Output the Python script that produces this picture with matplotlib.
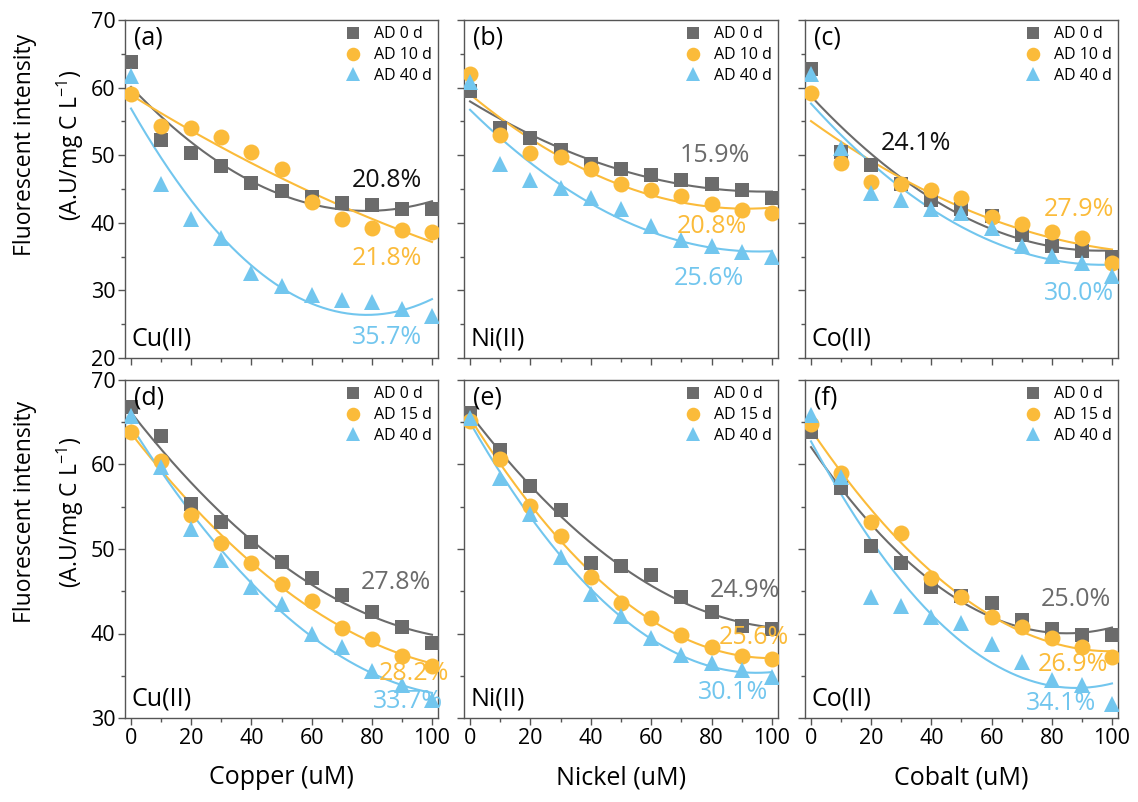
import numpy as np
import matplotlib
matplotlib.use("Agg")
import matplotlib.pyplot as plt
from matplotlib.lines import Line2D

plt.rcParams['font.family'] = ['Open Sans', 'DejaVu Sans']
plt.rcParams['mathtext.fontset'] = 'custom'
plt.rcParams['mathtext.rm'] = 'Open Sans'

x = [0, 10, 20, 30, 40, 50, 60, 70, 80, 90, 100]

# Panel (a) Cu(II)
a_0 = [63.8, 52.2, 50.3, 48.4, 45.9, 44.7, 43.8, 42.9, 42.6, 42.0, 42.0]
a_10 = [59.0, 54.3, 54.0, 52.7, 50.4, 48.0, 43.1, 40.6, 39.2, 39.0, 38.6]
a_40 = [61.7, 45.8, 40.6, 37.8, 32.6, 30.6, 29.3, 28.6, 28.3, 27.3, 26.2]
# Panel (b) Ni(II)
b_0 = [59.5, 54.0, 52.6, 50.8, 48.7, 47.9, 47.1, 46.3, 45.7, 44.9, 43.7]
b_10 = [62.0, 53.0, 50.3, 49.7, 47.9, 45.7, 44.9, 43.9, 42.8, 41.9, 41.4]
b_40 = [60.9, 48.7, 46.3, 45.1, 43.6, 42.1, 39.6, 37.5, 36.5, 35.7, 35.0]
# Panel (c) Co(II)
c_0 = [62.7, 50.5, 48.5, 45.8, 43.4, 42.1, 41.0, 38.2, 36.5, 35.8, 35.0]
c_10 = [59.2, 48.9, 46.1, 45.8, 44.8, 43.6, 40.9, 39.8, 38.7, 37.7, 34.0]
c_40 = [62.0, 51.0, 44.4, 43.4, 42.1, 41.4, 39.2, 36.5, 35.1, 34.0, 32.1]
# Panel (d) Cu(II)
d_0 = [66.8, 63.4, 55.3, 53.2, 50.8, 48.5, 46.6, 44.6, 42.6, 40.8, 38.9]
d_15 = [63.9, 60.4, 54.0, 50.7, 48.3, 45.9, 43.9, 40.6, 39.3, 37.3, 36.2]
d_40 = [65.7, 59.7, 52.4, 48.7, 45.5, 43.5, 40.0, 38.4, 35.6, 33.9, 32.1]
# Panel (e) Ni(II)
e_0 = [66.1, 61.7, 57.5, 54.6, 48.3, 48.0, 46.9, 44.3, 42.6, 40.9, 40.5]
e_15 = [65.1, 60.7, 55.1, 51.5, 46.7, 43.6, 41.8, 39.8, 38.4, 37.3, 37.0]
e_40 = [65.5, 58.4, 54.1, 49.0, 44.7, 42.1, 39.5, 37.5, 36.5, 35.7, 34.9]
# Panel (f) Co(II)
f_0 = [63.9, 57.2, 50.3, 48.3, 45.5, 44.4, 43.6, 41.6, 40.5, 39.8, 39.8]
f_15 = [64.8, 59.0, 53.2, 51.9, 46.6, 44.3, 41.9, 40.8, 39.5, 38.4, 37.2]
f_40 = [65.9, 58.5, 44.3, 43.2, 41.9, 41.2, 38.8, 36.6, 34.5, 33.9, 31.7]

panel_letters = ['(a)', '(b)', '(c)', '(d)', '(e)', '(f)']
metals = ['Cu(II)', 'Ni(II)', 'Co(II)', 'Cu(II)', 'Ni(II)', 'Co(II)']
xlabels = ['Copper (uM)', 'Nickel (uM)', 'Cobalt (uM)']
labels_top = ['AD 0 d', 'AD 10 d', 'AD 40 d']
labels_bot = ['AD 0 d', 'AD 15 d', 'AD 40 d']

series = [(a_0, a_10, a_40), (b_0, b_10, b_40), (c_0, c_10, c_40),
          (d_0, d_15, d_40), (e_0, e_15, e_40), (f_0, f_15, f_40)]

# percentage annotations: (text, x, y, color index; 3 = black)
pct = [
    [('20.8%', 85, 46.3, 3), ('21.8%', 85, 34.7, 1), ('35.7%', 85, 23.1, 2)],
    [('15.9%', 81, 50.0, 0), ('20.8%', 80, 39.4, 1), ('25.6%', 79, 31.7, 2)],
    [('24.1%', 35, 51.7, 3), ('27.9%', 89, 42.0, 1), ('30.0%', 89, 29.6, 2)],
    [('27.8%', 88, 46.0, 0), ('28.2%', 94, 35.3, 1), ('33.7%', 92, 31.9, 2)],
    [('24.9%', 91, 45.1, 0), ('25.6%', 94, 39.5, 1), ('30.1%', 87, 33.0, 2)],
    [('25.0%', 88, 44.0, 0), ('26.9%', 87, 36.3, 1), ('34.1%', 83, 31.7, 2)],
]

colors = ['#6b6b6b', '#fbbb3a', '#72c6ee', '#111111']
markers = ['s', 'o', '^']
msizes = [10.5, 11.5, 11.5]

W, H = 1138, 802
fig = plt.figure(figsize=(W / 100, H / 100), dpi=100)

col_l = [125, 464, 805]
col_r = [438, 778, 1118]
row_t = [20, 380]
row_b = [358, 718]

for i in range(6):
    r, c = divmod(i, 3)
    ax = fig.add_axes([col_l[c] / W, 1 - row_b[r] / H,
                       (col_r[c] - col_l[c]) / W, (row_b[r] - row_t[r]) / H])
    xs = np.array(x, dtype=float)
    xf = np.linspace(0, 100, 200)
    for k in range(3):
        ys = np.array(series[i][k])
        coef = np.polyfit(xs, ys, 2)
        ax.plot(xf, np.polyval(coef, xf), color=colors[k], lw=1.5, zorder=2)
    for k in range(3):
        ax.plot(xs, series[i][k], linestyle='none', marker=markers[k],
                ms=msizes[k], color=colors[k], markeredgewidth=0, zorder=3)
    ax.set_xlim(-2, 102)
    if r == 0:
        ax.set_ylim(20, 70)
        ax.set_yticks([20, 30, 40, 50, 60, 70])
    else:
        ax.set_ylim(30, 70)
        ax.set_yticks([30, 40, 50, 60, 70])
    ax.set_xticks([0, 20, 40, 60, 80, 100])
    ax.set_xticks([10, 30, 50, 70, 90], minor=True)
    ax.set_yticks(np.arange(25 if r == 0 else 35, 70, 10), minor=True)
    for s in ax.spines.values():
        s.set_color('#555555')
        s.set_linewidth(1.0)
    ax.tick_params(axis='both', which='major', direction='out', length=5,
                   width=1, color='#555555', labelsize=15.5, pad=2)
    ax.tick_params(axis='both', which='minor', direction='out', length=3,
                   width=1, color='#555555')
    if c != 0:
        ax.tick_params(axis='y', labelleft=False)
    if r == 0:
        ax.tick_params(axis='x', labelbottom=False)
    else:
        ax.set_xlabel(xlabels[c], fontsize=18, labelpad=12)

    ax.text(0.03, 0.985, panel_letters[i], transform=ax.transAxes,
            fontsize=18, va='top', ha='left')
    ax.text(0.02, 0.02, metals[i], transform=ax.transAxes,
            fontsize=18, va='bottom', ha='left')
    for (t, tx, ty, ci) in pct[i]:
        ax.text(tx, ty, t, fontsize=18, color=colors[ci], ha='center', va='center', zorder=5)

    labs = labels_top if r == 0 else labels_bot
    handles = [Line2D([], [], linestyle='none', marker=markers[k], ms=msizes[k] * 0.85,
                      color=colors[k], markeredgewidth=0) for k in range(3)]
    ax.legend(handles, labs, loc='upper right', frameon=False, fontsize=11.5,
              handletextpad=0.5, labelspacing=0.3, borderaxespad=0.1,
              handlelength=1.6, borderpad=0.3)

for r, yc in enumerate([145, 512]):
    fig.text(25 / W, 1 - yc / H, 'Fluorescent intensity', rotation=90,
             fontsize=16.5, ha='center', va='center')
    fig.text(70 / W, 1 - yc / H, '(A.U/mg C L$^{-1}$)', rotation=90,
             fontsize=16.5, ha='center', va='center')

fig.savefig('out.png', dpi=100)
